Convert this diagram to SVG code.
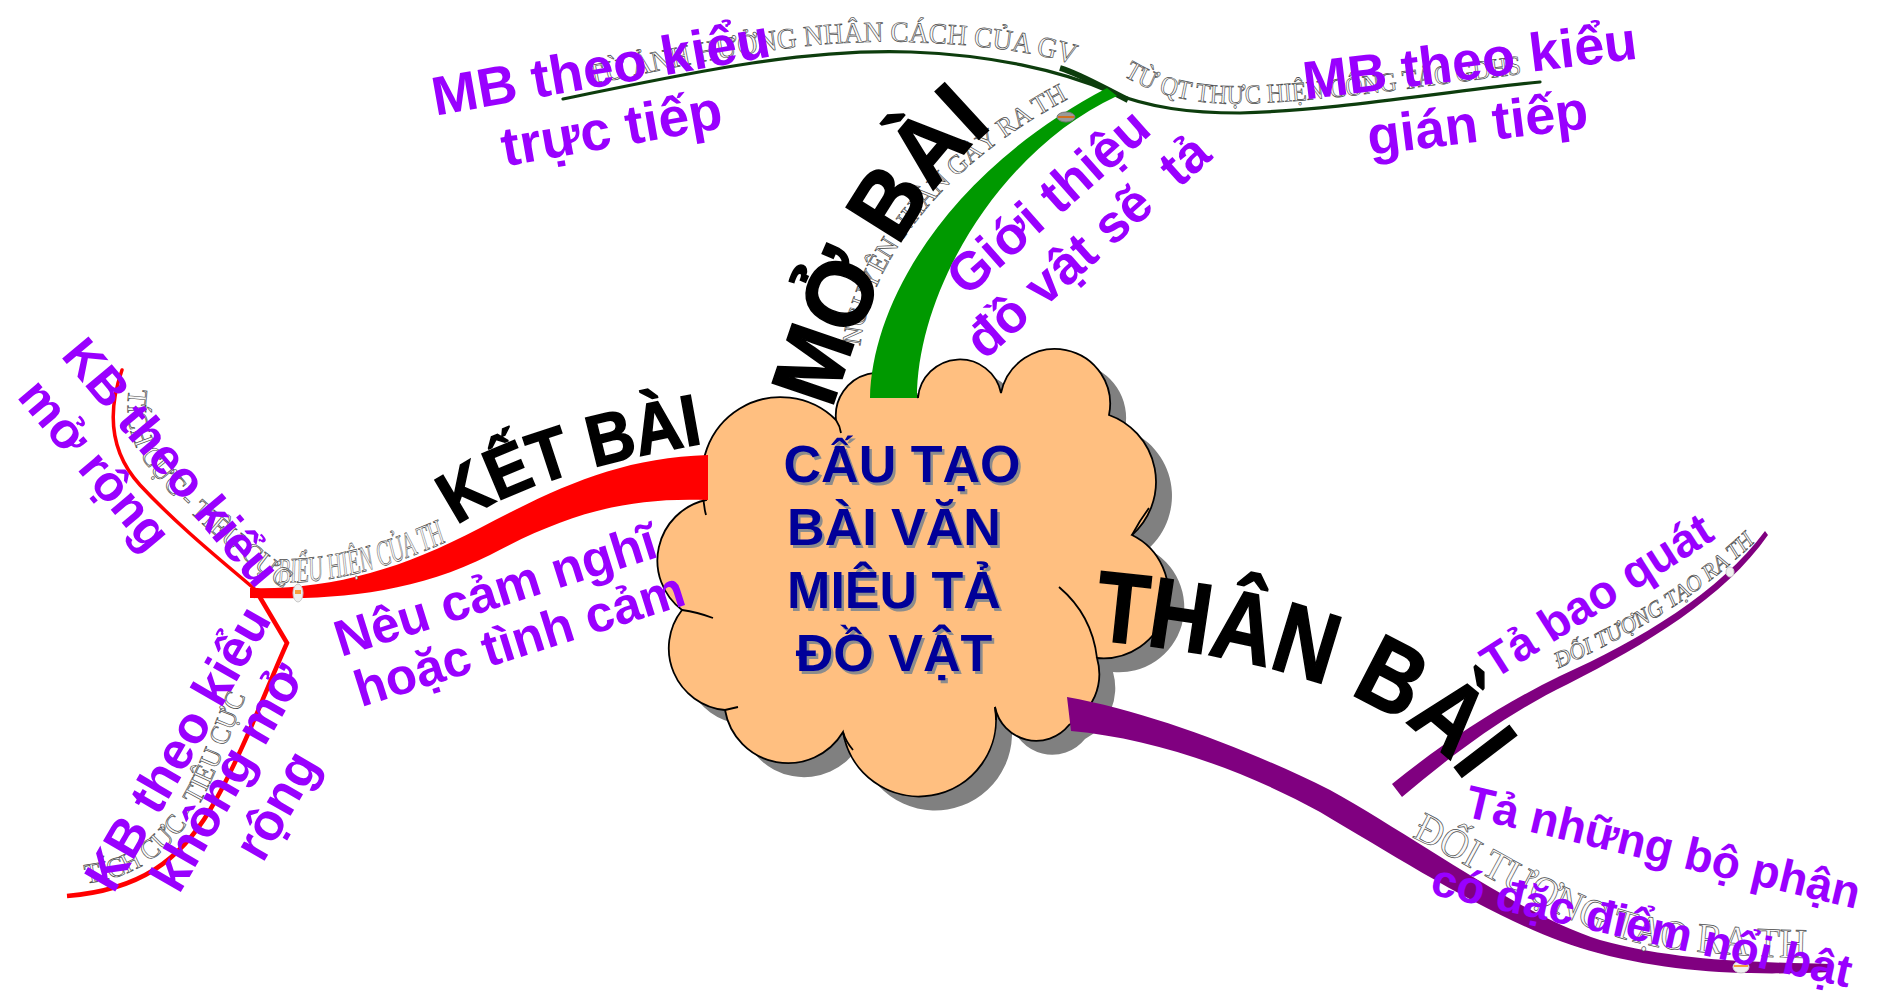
<svg xmlns="http://www.w3.org/2000/svg" width="1880" height="1000" viewBox="0 0 1880 1000">
<style>
.leaf{font-family:"Liberation Sans",Arial,sans-serif;font-weight:bold;fill:#9900ff;white-space:pre}
.title{font-family:"Liberation Sans",Arial,sans-serif;font-weight:bold;fill:#000;stroke:#000;stroke-width:1.6}
.core{font-family:"Liberation Sans",Arial,sans-serif;font-weight:bold;font-size:52px;text-anchor:middle}
.wa{font-family:"Liberation Serif","Times New Roman",serif;fill:#fafafa;stroke:#4a4a4a;stroke-width:0.7}
.it{font-style:italic}
.tail{fill:none;stroke:#000;stroke-width:1.8}
</style>
<defs>
<path id="cloudShape" d="M706,500 A78.5,78.5 0 0 1 836,420 A43,43 0 0 1 918,398 A42,42 0 0 1 1001,393 A55,55 0 0 1 1109,415 A71,71 0 0 1 1132,535 A65,65 0 0 1 1097,658 A58,58 0 0 1 1069,725 A42,42 0 0 1 995,707 A77,77 0 0 1 843,732 A64,64 0 0 1 725,710 A62,62 0 0 1 682,610 A62,62 0 0 1 706,500 Z"/>
<path id="pMo" d="M832,410 Q893,210 995,125"/>
<path id="pKet" d="M457,526 Q525,475 700,444"/>
<path id="pThan" d="M1093,640 Q1399,667 1470,790"/>
<path id="pTopL" d="M575,88 C690,64 800,38 911,42 C985,45 1035,52 1080,66"/>
<path id="pTopR" d="M1115,70 C1150,95 1190,104 1240,104 C1340,101 1440,83 1530,73"/>
<path id="pGreen" d="M860,350 C866,270 938,163 1080,93"/>
<path id="pRedBig" d="M278,583 C340,583 395,565 450,540"/>
<path id="pRedUp" d="M130,383 C123,420 130,450 165,487 C205,531 250,563 290,594"/>
<path id="pRedLow" d="M80,884 C130,880 165,858 193,815 C220,772 235,715 262,660"/>
<path id="pPurThin" d="M1555,670 C1620,640 1690,605 1757,540"/>
<path id="pPurBig" d="M1408,835 C1500,880 1580,940 1680,950 C1740,956 1780,958 1818,958"/>
</defs>
<rect width="1880" height="1000" fill="#fff"/>

<g id="node-center">
<use href="#cloudShape" transform="translate(16,14)" fill="#808080"/>
<use href="#cloudShape" fill="#ffbf80" stroke="#000" stroke-width="1.8"/>
<path class="tail" d="M706,515 Q702,500 704,484 M1132,535 Q1140,520 1149,508 M1059,587 Q1092,615 1097,658 M843,732 Q846,742 853,750 M725,710 L738,707 M682,610 Q697,612 713,618 M836,420 Q840,426 841,433 M995,707 Q996,713 996,720"/>
<g class="core" fill="#8c8c8c" transform="translate(2.5,2.5)">
<text x="902" y="482">CẤU TẠO</text>
<text x="894" y="545">BÀI VĂN</text>
<text x="894" y="608">MIÊU TẢ</text>
<text x="894" y="671">ĐỒ VẬT</text>
</g>
<g class="core" fill="#000099">
<text x="902" y="482">CẤU TẠO</text>
<text x="894" y="545">BÀI VĂN</text>
<text x="894" y="608">MIÊU TẢ</text>
<text x="894" y="671">ĐỒ VẬT</text>
</g>
</g>

<g id="connectors">
<path d="M563,99 C680,75 800,48 911,52 C990,55 1060,70 1110,92 C1150,108 1190,113 1240,113 C1340,110 1440,92 1540,82" fill="none" stroke="#0d3d0d" stroke-width="3.2" stroke-linecap="round"/>
<path d="M1060,68 C1080,74 1100,86 1128,100" fill="none" stroke="#0d3d0d" stroke-width="6"/>
<path d="M870,398 C872,300 950,170 1107,88 L1117,96 C1000,150 917,290 917,398 Z" fill="#009900"/>
<path d="M122,370 C108,410 108,450 140,485 C180,528 228,566 258,592" fill="none" stroke="#ff0000" stroke-width="3.5" stroke-linecap="round"/>
<path d="M258,594 L287,643 C270,680 240,760 210,810 C180,860 140,890 67,896" fill="none" stroke="#ff0000" stroke-width="4.5" stroke-linejoin="miter"/>
<path d="M250,588 C330,590 400,570 480,528 C560,486 620,458 708,455 L708,500 C630,497 570,512 490,555 C410,595 330,600 250,598 Z" fill="#ff0000"/>
<path d="M1067,697 C1150,712 1250,750 1330,790 C1420,840 1520,915 1600,940 C1680,962 1760,962 1830,964 L1832,972 C1760,975 1680,975 1598,953 C1510,930 1410,865 1320,812 C1240,768 1150,738 1071,731 Z" fill="#800080"/>
<path d="M1392,784 C1440,745 1500,705 1560,676 C1640,640 1720,592 1765,531 L1768,535 C1725,597 1645,645 1568,684 C1510,712 1455,752 1402,797 Z" fill="#800080"/>
<ellipse cx="298" cy="593" rx="5" ry="9" fill="#eeeeee" stroke="#c8c8c8"/>
<rect x="295" y="590" width="6" height="4" fill="#f4a040"/>
<ellipse cx="1066" cy="117" rx="9" ry="5" fill="#9a9a9a" stroke="#777"/>
<line x1="1058" y1="117" x2="1074" y2="117" stroke="#d07020" stroke-width="2"/>
<ellipse cx="1730" cy="572" rx="4" ry="5" fill="#f0f0f0" stroke="#ccc"/>
<ellipse cx="1741" cy="967" rx="8" ry="6" fill="#f0f0f0" stroke="#ccc"/>
<line x1="1734" y1="966" x2="1748" y2="966" stroke="#f4a040" stroke-width="2"/>
<text class="wa" font-size="29"><textPath href="#pTopL" startOffset="15" textLength="490" lengthAdjust="spacingAndGlyphs">TỪ ẢNH HƯỞNG NHÂN CÁCH CỦA GV</textPath></text>
<text class="wa" font-size="27"><textPath href="#pTopR" startOffset="10" textLength="405" lengthAdjust="spacingAndGlyphs">TỪ QT THỰC HIỆN CÔNG TÁC GDHS</textPath></text>
<text class="wa" font-size="27"><textPath href="#pGreen" startOffset="4" textLength="335" lengthAdjust="spacingAndGlyphs">NGUYÊN NHÂN GÂY RA TH</textPath></text>
<text class="wa it" font-size="36"><textPath href="#pRedBig" textLength="175" lengthAdjust="spacingAndGlyphs">BIỂU HIỆN CỦA TH</textPath></text>
<text class="wa" font-size="28"><textPath href="#pRedUp" startOffset="6" textLength="265" lengthAdjust="spacingAndGlyphs">TÍCH CỰC - TIÊU CỰC</textPath></text>
<text class="wa" font-size="28"><textPath href="#pRedLow" startOffset="6" textLength="262" lengthAdjust="spacingAndGlyphs">TÍCH CỰC - TIÊU CỰC</textPath></text>
<text class="wa it" font-size="23"><textPath href="#pPurThin" startOffset="4" textLength="235" lengthAdjust="spacingAndGlyphs">ĐỐI TƯỢNG TẠO RA TH</textPath></text>
<text class="wa" font-size="42"><textPath href="#pPurBig" startOffset="4" textLength="420" lengthAdjust="spacingAndGlyphs">ĐỐI TƯỢNG TẠO RA TH</textPath></text>
</g>

<g id="node-mo-bai"><text class="title" font-size="94"><textPath href="#pMo" textLength="330" lengthAdjust="spacingAndGlyphs">MỞ BÀI</textPath></text></g>
<g id="node-ket-bai"><text class="title" font-size="72"><textPath href="#pKet" textLength="262" lengthAdjust="spacingAndGlyphs">KẾT BÀI</textPath></text></g>
<g id="node-than-bai"><text class="title" font-size="100"><textPath href="#pThan" textLength="410" lengthAdjust="spacingAndGlyphs">THÂN BÀI</textPath></text></g>

<g id="node-mb-truc-tiep" class="leaf" font-size="55" text-anchor="middle" transform="translate(604,86) rotate(-10)">
<text x="0" y="0">MB theo kiểu</text><text x="0" y="62">trực tiếp</text>
</g>
<g id="node-mb-gian-tiep" class="leaf" font-size="54" text-anchor="middle" transform="translate(1472,79) rotate(-7)">
<text x="0" y="0">MB theo kiểu</text><text x="0" y="63">gián tiếp</text>
</g>
<g id="node-gioi-thieu" class="leaf" font-size="53" text-anchor="middle" transform="translate(1060,215) rotate(-41.5)">
<text x="0" y="0">Giới thiệu</text><text x="0" y="59" xml:space="preserve">đồ vật sẽ  tả</text>
</g>
<g id="node-kb-mo-rong" class="leaf" font-size="50" transform="translate(60,356) rotate(50)">
<text x="0" y="0">KB theo kiểu</text><text x="3" y="60">mở rộng</text>
</g>
<g id="node-kb-khong-mo-rong" class="leaf" font-size="52" text-anchor="middle" transform="translate(193,757) rotate(-60)">
<text x="0" y="0">KB theo kiểu</text><text x="0" y="57">không mở</text><text x="0" y="114">rộng</text>
</g>
<g id="node-neu-cam-nghi" class="leaf" font-size="51" transform="translate(341,657) rotate(-17.5)">
<text x="0" y="0">Nêu cảm nghĩ</text><text x="4" y="54">hoặc tình cảm</text>
</g>
<g id="node-ta-bao-quat" class="leaf" font-size="47" transform="translate(1494,680) rotate(-32.5)">
<text x="0" y="0">Tả bao quát</text>
</g>
<g id="node-ta-bo-phan" class="leaf" font-size="46">
<text transform="translate(1463,816) rotate(13.3)">Tả những bộ phận</text>
<text transform="translate(1429,894) rotate(12.6)">có đặc điểm nổi bật</text>
</g>
</svg>
